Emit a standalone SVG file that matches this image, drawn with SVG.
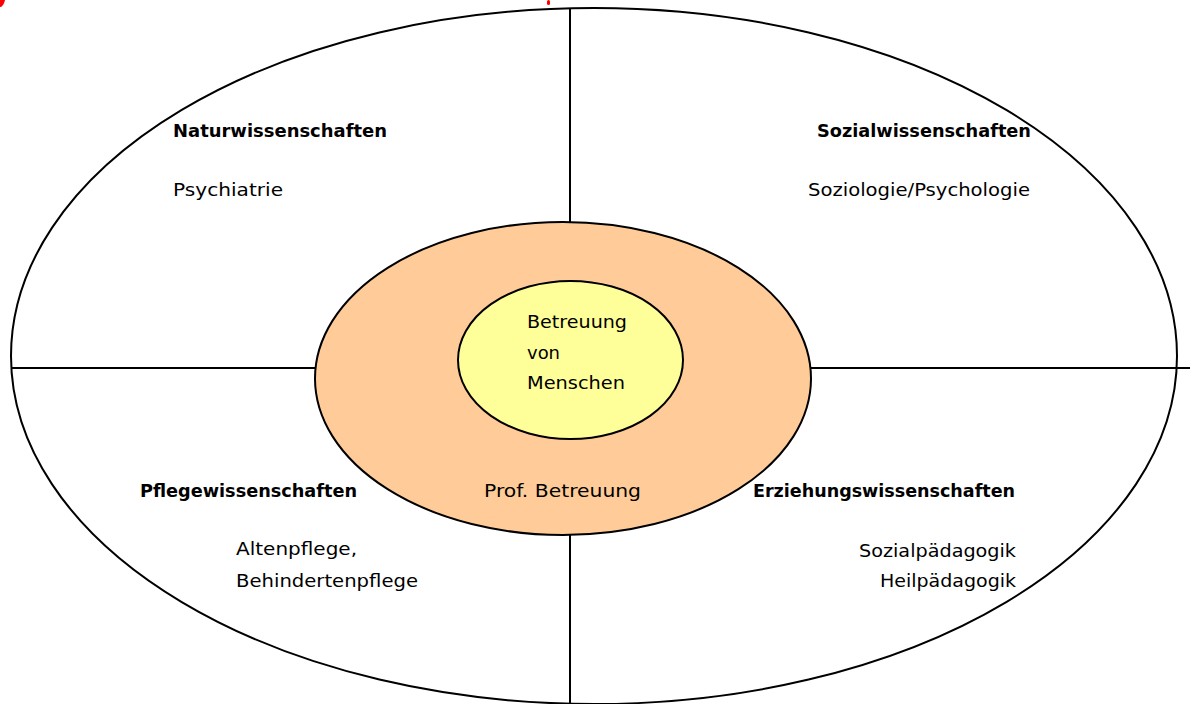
<svg xmlns="http://www.w3.org/2000/svg" width="1190" height="704" viewBox="0 0 1190 704">
<style>
.t{font-family:"Comic Sans MS","DejaVu Sans","Liberation Sans",sans-serif;font-size:18px;fill:#000}
.b{font-weight:bold}
.ln{stroke:#000;stroke-width:2;fill:none}
</style>
<rect width="1190" height="704" fill="#fff"/>
<g id="title-fragments" fill="#ff0000">
<path d="M0 0 H5 Q4 5 1 7 H0 Z"/>
<rect x="547" y="0" width="3" height="5" rx="1.5"/>
</g>
<g id="outer">
<ellipse cx="594" cy="356" rx="583" ry="348" fill="#fff" stroke="#000" stroke-width="2"/>
</g>
<g id="connectors">
<line class="ln" x1="570" y1="8" x2="570" y2="224"/>
<line class="ln" x1="570" y1="533" x2="570" y2="704"/>
<line class="ln" x1="11" y1="368" x2="316" y2="368"/>
<line class="ln" x1="810" y1="368" x2="1190" y2="368"/>
</g>
<g id="prof">
<ellipse cx="563" cy="378.5" rx="248" ry="156.5" fill="#ffcc99" stroke="#000" stroke-width="2"/>
<text class="t" x="484" y="497" textLength="157" lengthAdjust="spacingAndGlyphs">Prof. Betreuung</text>
</g>
<g id="core">
<ellipse cx="570.5" cy="360" rx="112.5" ry="79" fill="#ffff99" stroke="#000" stroke-width="2"/>
<text class="t" x="527" y="328" textLength="100" lengthAdjust="spacingAndGlyphs">Betreuung</text>
<text class="t" x="527" y="359" textLength="33" lengthAdjust="spacingAndGlyphs">von</text>
<text class="t" x="527" y="389" textLength="98" lengthAdjust="spacingAndGlyphs">Menschen</text>
</g>
<g id="natur">
<text class="t b" x="173" y="137" textLength="214" lengthAdjust="spacingAndGlyphs">Naturwissenschaften</text>
<text class="t" x="173" y="196" textLength="110" lengthAdjust="spacingAndGlyphs">Psychiatrie</text>
</g>
<g id="sozial">
<text class="t b" x="817" y="137" textLength="214" lengthAdjust="spacingAndGlyphs">Sozialwissenschaften</text>
<text class="t" x="808" y="196" textLength="222" lengthAdjust="spacingAndGlyphs">Soziologie/Psychologie</text>
</g>
<g id="pflege">
<text class="t b" x="140" y="497" textLength="217" lengthAdjust="spacingAndGlyphs">Pflegewissenschaften</text>
<text class="t" x="236" y="555" textLength="121" lengthAdjust="spacingAndGlyphs">Altenpflege,</text>
<text class="t" x="236" y="587" textLength="182" lengthAdjust="spacingAndGlyphs">Behindertenpflege</text>
</g>
<g id="erziehung">
<text class="t b" x="753" y="497" textLength="262" lengthAdjust="spacingAndGlyphs">Erziehungswissenschaften</text>
<text class="t" x="859" y="557" textLength="157" lengthAdjust="spacingAndGlyphs">Sozialpädagogik</text>
<text class="t" x="880" y="587" textLength="136" lengthAdjust="spacingAndGlyphs">Heilpädagogik</text>
</g>
</svg>
